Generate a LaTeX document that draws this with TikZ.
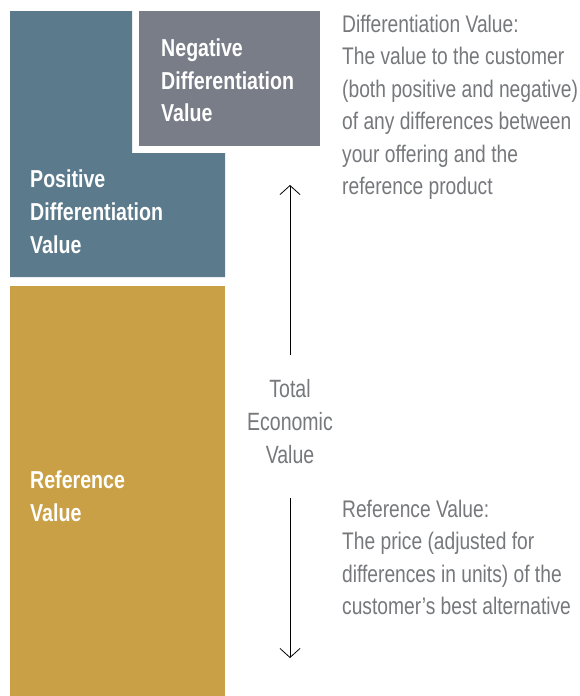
\documentclass[tikz,border=0pt]{standalone}
\usepackage{fontspec}
\usetikzlibrary{arrows.meta}
\newfontfamily\cf[FakeStretch=0.8]{Liberation Sans}
\newfontfamily\cft[FakeStretch=0.78]{Liberation Sans}
\definecolor{posblue}{RGB}{91,122,140}
\definecolor{neggray}{RGB}{121,125,135}
\definecolor{refgold}{RGB}{201,160,69}
\definecolor{txtgray}{RGB}{118,120,124}
\newcommand{\mylines}[3]{\parbox[t]{#1}{\raggedright\cf #2 #3}}
\tikzset{
  boxlabel/.style={anchor=base west, inner sep=0pt, text=white},
  note/.style={anchor=base west, inner sep=0pt, text=txtgray},
  tevlabel/.style={anchor=base, inner sep=0pt, text=txtgray, align=center},
  valarrow/.style={draw=black, line width=0.8pt, -{Straight Barb[length=9pt,width=20pt,line width=0.8pt]}}
}
\begin{document}
\begin{tikzpicture}[x=1pt,y=-1pt]
\useasboundingbox[fill=white] (0,0) rectangle (579,696);
% shapes
\fill[posblue] (10,11) -- (132,11) -- (132,153) -- (225,153) -- (225,277) -- (10,277) -- cycle;
\fill[neggray] (139,11) rectangle (320,146);
\fill[refgold] (10,286) rectangle (225,696);
% box labels
\node[boxlabel] (neg) at (161,56) {\mylines{5cm}{\fontsize{24.5}{33}\selectfont\bfseries}{Negative\\Differentiation\\Value}};
\node[boxlabel] (pos) at (30,187) {\mylines{5cm}{\fontsize{24.5}{33}\selectfont\bfseries}{Positive\\Differentiation\\Value}};
\node[boxlabel] (ref) at (30,488) {\mylines{5cm}{\fontsize{24.5}{33}\selectfont\bfseries}{Reference\\Value}};
% notes
\node[note] (diffnote) at (342,32) {\mylines{9cm}{\fontsize{24}{32.5}\selectfont}{Differentiation Value:\\The value to the customer\\(both positive and negative)\\of any differences between\\your offering and the\\reference product}};
\node[note] (refnote) at (342,517) {\mylines{9cm}{\fontsize{24}{32.5}\selectfont}{Reference Value:\\The price (adjusted for\\differences in units) of the\\customer’s best alternative}};
% total economic value
\node[tevlabel, font=\cft\fontsize{25}{33}\selectfont] (tev) at (290,463) {Total\\Economic\\Value};
\coordinate (upstart) at (290,355);
\coordinate (uptip) at (290,185);
\coordinate (downstart) at (290,498);
\coordinate (downtip) at (290,658);
\draw[valarrow] (upstart) -- (uptip);
\draw[valarrow] (downstart) -- (downtip);
\end{tikzpicture}
\end{document}
